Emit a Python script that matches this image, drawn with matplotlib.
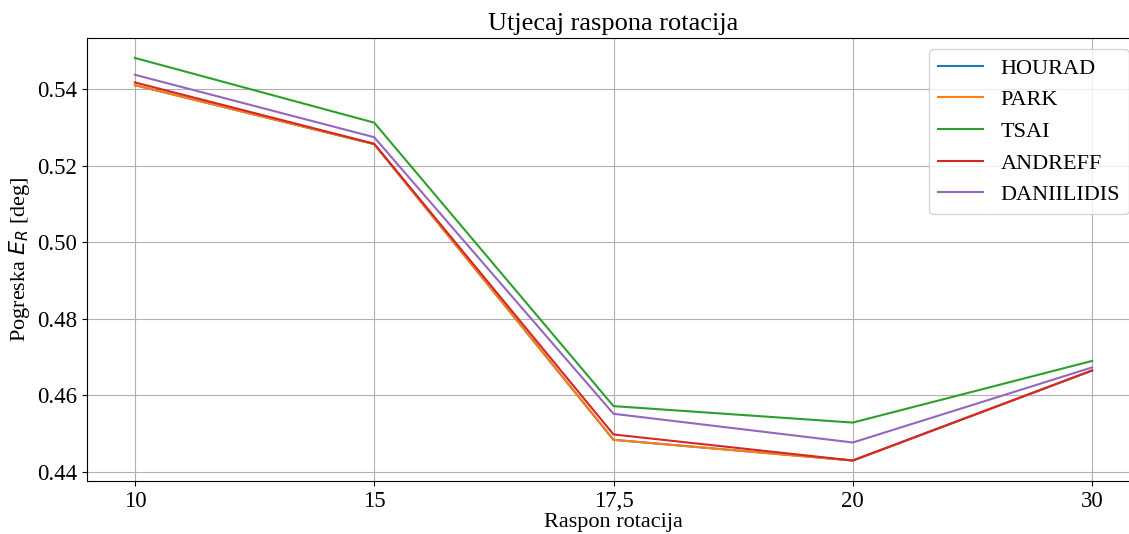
import numpy as np
import matplotlib.pyplot as plt

plt.rcParams['font.family'] = ['Liberation Serif', 'DejaVu Serif']
plt.rcParams['mathtext.fontset'] = 'dejavusans'

x_labels = ["10", "15", "17,5", "20", "30"]
hourad = [0.5410, 0.5256, 0.4484, 0.4430, 0.4665]
park = [0.5410, 0.5256, 0.4484, 0.4430, 0.4665]
tsai = [0.5481, 0.5312, 0.4572, 0.4529, 0.4690]
andreff = [0.5417, 0.5257, 0.4498, 0.4430, 0.4665]
daniilidis = [0.5437, 0.5274, 0.4552, 0.4477, 0.4673]

series = [("HOURAD", hourad), ("PARK", park), ("TSAI", tsai),
          ("ANDREFF", andreff), ("DANIILIDIS", daniilidis)]

fig = plt.figure(figsize=(11.29, 5.34), dpi=100)
ax = fig.add_axes([87 / 1129, 53 / 534, 1053 / 1129, 443 / 534])

xs = np.arange(len(x_labels))
for name, vals in series:
    ax.plot(xs, vals, label=name, linewidth=1.5)

ax.set_xticks(xs)
ax.set_xticklabels(x_labels)
ax.set_xlim(-0.2, 4.2)
ax.set_ylim(0.43765, 0.5533)
ax.set_yticks([0.44, 0.46, 0.48, 0.50, 0.52, 0.54])
ax.tick_params(labelsize=16.5)
ax.set_xlabel("Raspon rotacija", fontsize=16, labelpad=1)
ax.set_ylabel("Pogreska $E_R$ [deg]", fontsize=16)
ax.set_title("Utjecaj raspona rotacija", fontsize=19)
ax.legend(loc='upper right', fontsize=16)
ax.grid()

fig.savefig("out.png", dpi=100)
